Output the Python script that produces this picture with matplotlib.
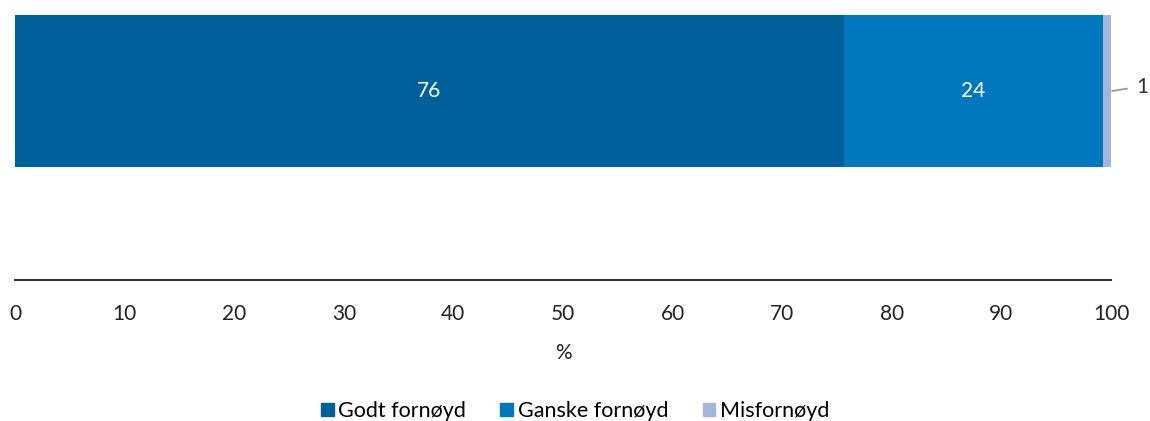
import matplotlib
matplotlib.use("Agg")
import matplotlib.pyplot as plt
from matplotlib.patches import Patch

categories = [""]
series_names = ["Godt fornøyd", "Ganske fornøyd", "Misfornøyd"]
values = [75.6, 23.7, 0.8]
labels = ["76", "24", "1"]
colors = ["#00609C", "#0077BF", "#A2B6DA"]
xticks = [0, 10, 20, 30, 40, 50, 60, 70, 80, 90, 100]

plt.rcParams['font.family'] = ['Lato', 'DejaVu Sans']
W, H = 1150, 421
fig = plt.figure(figsize=(W/100, H/100), dpi=100)
ax = fig.add_axes([15/W, 1-280/H, (1111-15)/W, (280-15)/H])

left = 0
for name, v, lab, c in zip(series_names, values, labels, colors):
    ax.barh(0, v, left=left, height=1.0, color=c, label=name)
    if v > 5:
        ax.text(left + v/2, 0, lab, ha="center", va="center", color="white", fontsize=15)
    else:
        x0 = left + v
        ax.annotate(lab, xy=(x0, 0), xytext=(x0 + 2.8, 0.025), ha="center", va="center",
                    fontsize=15, color="#333333", annotation_clip=False,
                    arrowprops=dict(arrowstyle="-", color="#999999", lw=1.3, shrinkA=5, shrinkB=0,
                                    connectionstyle="angle3,angleA=0,angleB=10"))
    left += v

ax.set_xlim(0, 100)
ax.set_ylim(-1.243, 0.5)
ax.set_yticks([])
ax.set_xticks(xticks)
ax.tick_params(axis="x", length=0, labelsize=15, pad=17, colors="#222222")
for s in ["top", "right", "left"]:
    ax.spines[s].set_visible(False)
ax.spines["bottom"].set_color("#333333")
ax.spines["bottom"].set_linewidth(1.5)
ax.set_xlabel("%", fontsize=15, labelpad=14, color="#222222")

handles = [Patch(color=c, label=n) for n, c in zip(series_names, colors)]
fig.legend(handles=handles, loc="center", bbox_to_anchor=(575/W, 1-411/H), ncol=3,
           frameon=False, fontsize=15.5, handlelength=0.6, handleheight=0.6,
           handletextpad=0.2, columnspacing=1.6)

fig.savefig("out.png", dpi=100)
